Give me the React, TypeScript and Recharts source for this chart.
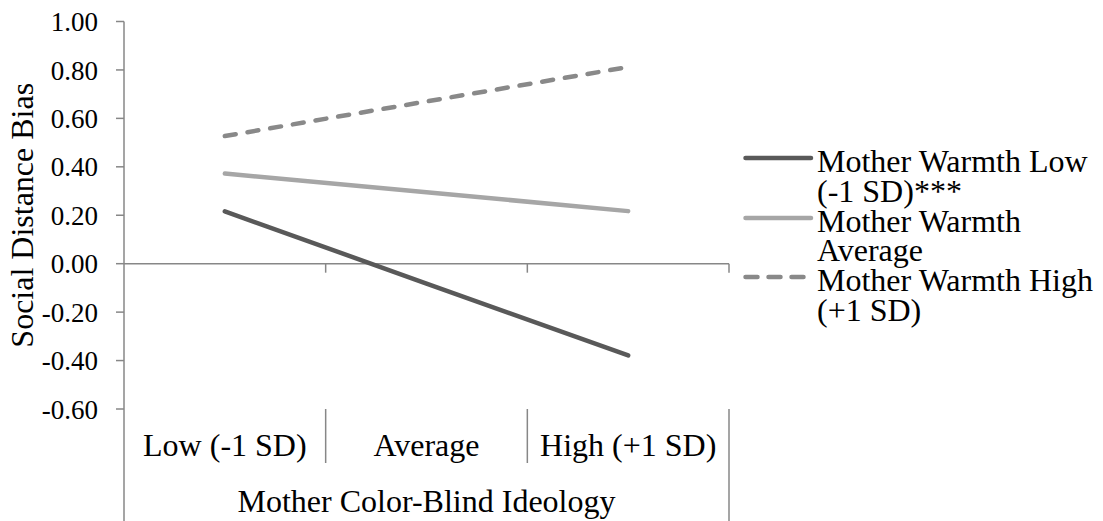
import { LineChart, Line, XAxis, YAxis, ReferenceLine, ReferenceDot } from 'recharts'

const categories = ['Low (-1 SD)', 'Average', 'High (+1 SD)']
const warmthLow = [0.216, -0.082, -0.379]
const warmthAverage = [0.372, 0.295, 0.217]
const warmthHigh = [0.527, 0.67, 0.812]
const yTicks = [-0.6, -0.4, -0.2, 0, 0.2, 0.4, 0.6, 0.8, 1.0]
const seriesLabels = [
  ['Mother Warmth Low', '(-1 SD)***'],
  ['Mother Warmth', 'Average'],
  ['Mother Warmth High', '(+1 SD)'],
]
const xTitle = 'Mother Color-Blind Ideology'
const yTitle = 'Social Distance Bias'

const FONT = 'Liberation Serif'
const AXIS = '#878787'

const series = [
  { key: 'low', values: warmthLow, color: '#595959', dash: undefined },
  { key: 'avg', values: warmthAverage, color: '#a6a6a6', dash: undefined },
  { key: 'high', values: warmthHigh, color: '#898989', dash: '11 12' },
]

// categories sit in the middle of unit-wide bands: 0.5, 1.5, 2.5
const data = categories.map((name, i) => ({
  x: i + 0.5,
  name,
  low: warmthLow[i],
  avg: warmthAverage[i],
  high: warmthHigh[i],
}))

const xTicks: number[] = []
for (let i = 0; i <= categories.length; i++) {
  xTicks.push(i)
  if (i < categories.length) xTicks.push(i + 0.5)
}
const boundaries = categories.map((_, i) => i + 1)

function CategoryTick(props: any) {
  const { x, y, payload } = props
  const v = payload.value as number
  if (Number.isInteger(v)) {
    const outer = v === 0 || v === categories.length
    return <line x1={x} x2={x} y1={y} y2={y + (outer ? 112 : 54)} stroke={AXIS} strokeWidth={1.5} />
  }
  return (
    <text x={x} y={y + 47} textAnchor="middle" fontFamily={FONT} fontSize={32} fill="#000">
      {categories[Math.floor(v)]}
    </text>
  )
}

function ValueTick(props: any) {
  const { x, y, payload } = props
  return (
    <text x={x} y={y} dy="0.355em" textAnchor="end" fontFamily={FONT} fontSize={27} fill="#000">
      {(payload.value as number).toFixed(2)}
    </text>
  )
}

function XTitle(props: any) {
  const { viewBox } = props
  return (
    <text x={viewBox.x + viewBox.width / 2} y={viewBox.y + 103} textAnchor="middle" fontFamily={FONT} fontSize={32} fill="#000">
      {xTitle}
    </text>
  )
}

function YTitle(props: any) {
  const { viewBox } = props
  const cy = viewBox.y + viewBox.height / 2
  return (
    <text x={33} y={cy} transform={`rotate(-90, 33, ${cy})`} textAnchor="middle" fontFamily={FONT} fontSize={32} fill="#000">
      {yTitle}
    </text>
  )
}

function ZeroTick(props: any) {
  const { cx, cy } = props
  return <line x1={cx} x2={cx} y1={cy} y2={cy + 9} stroke={AXIS} strokeWidth={1.5} />
}

function LegendBox() {
  return (
    <div style={{ position: 'absolute', left: 743, top: 0, fontFamily: FONT, fontSize: 32, color: '#000' }}>
      {series.map((s, i) => (
        <div key={s.key} style={{ position: 'absolute', left: 0, top: 147.4 + i * 59.5, width: 360 }}>
          <svg width={72} height={24} style={{ position: 'absolute', left: 0, top: 0 }}>
            <line x1={2.5} x2={68} y1={11} y2={11} stroke={s.color} strokeWidth={4.5} strokeLinecap="round" strokeDasharray={s.dash ? '12 11' : undefined} />
          </svg>
          <div style={{ position: 'absolute', left: 74, top: 0, lineHeight: '29.5px', whiteSpace: 'nowrap' }}>
            {seriesLabels[i].map((t) => (
              <div key={t}>{t}</div>
            ))}
          </div>
        </div>
      ))}
    </div>
  )
}

export default function App() {
  return (
    <div style={{ position: 'absolute', left: 0, top: 0, width: 1103, height: 521, background: '#fff' }}>
      <LineChart width={1103} height={521} data={data} margin={{ top: 21.5, right: 374, bottom: 0, left: 0 }}>
        <XAxis
          dataKey="x"
          type="number"
          domain={[0, categories.length]}
          ticks={xTicks}
          interval={0}
          height={112}
          axisLine={false}
          tickLine={false}
          tickSize={0}
          tickMargin={0}
          tick={<CategoryTick />}
          label={<XTitle />}
        />
        <YAxis
          type="number"
          domain={[-0.6, 1]}
          ticks={yTicks}
          interval={0}
          width={124}
          tickSize={8}
          tickMargin={18}
          axisLine={{ stroke: AXIS, strokeWidth: 1.5 }}
          tickLine={{ stroke: AXIS, strokeWidth: 1.5 }}
          tick={<ValueTick />}
          label={<YTitle />}
        />
        <ReferenceLine y={0} stroke={AXIS} strokeWidth={1.5} />
        {boundaries.map((b) => (
          <ReferenceDot key={b} x={b} y={0} ifOverflow="visible" shape={<ZeroTick />} />
        ))}
        {series.map((s) => (
          <Line
            key={s.key}
            type="linear"
            dataKey={s.key}
            stroke={s.color}
            strokeWidth={4.5}
            strokeLinecap="round"
            strokeDasharray={s.dash}
            dot={false}
            activeDot={false}
            isAnimationActive={false}
          />
        ))}
      </LineChart>
      <LegendBox />
    </div>
  )
}
